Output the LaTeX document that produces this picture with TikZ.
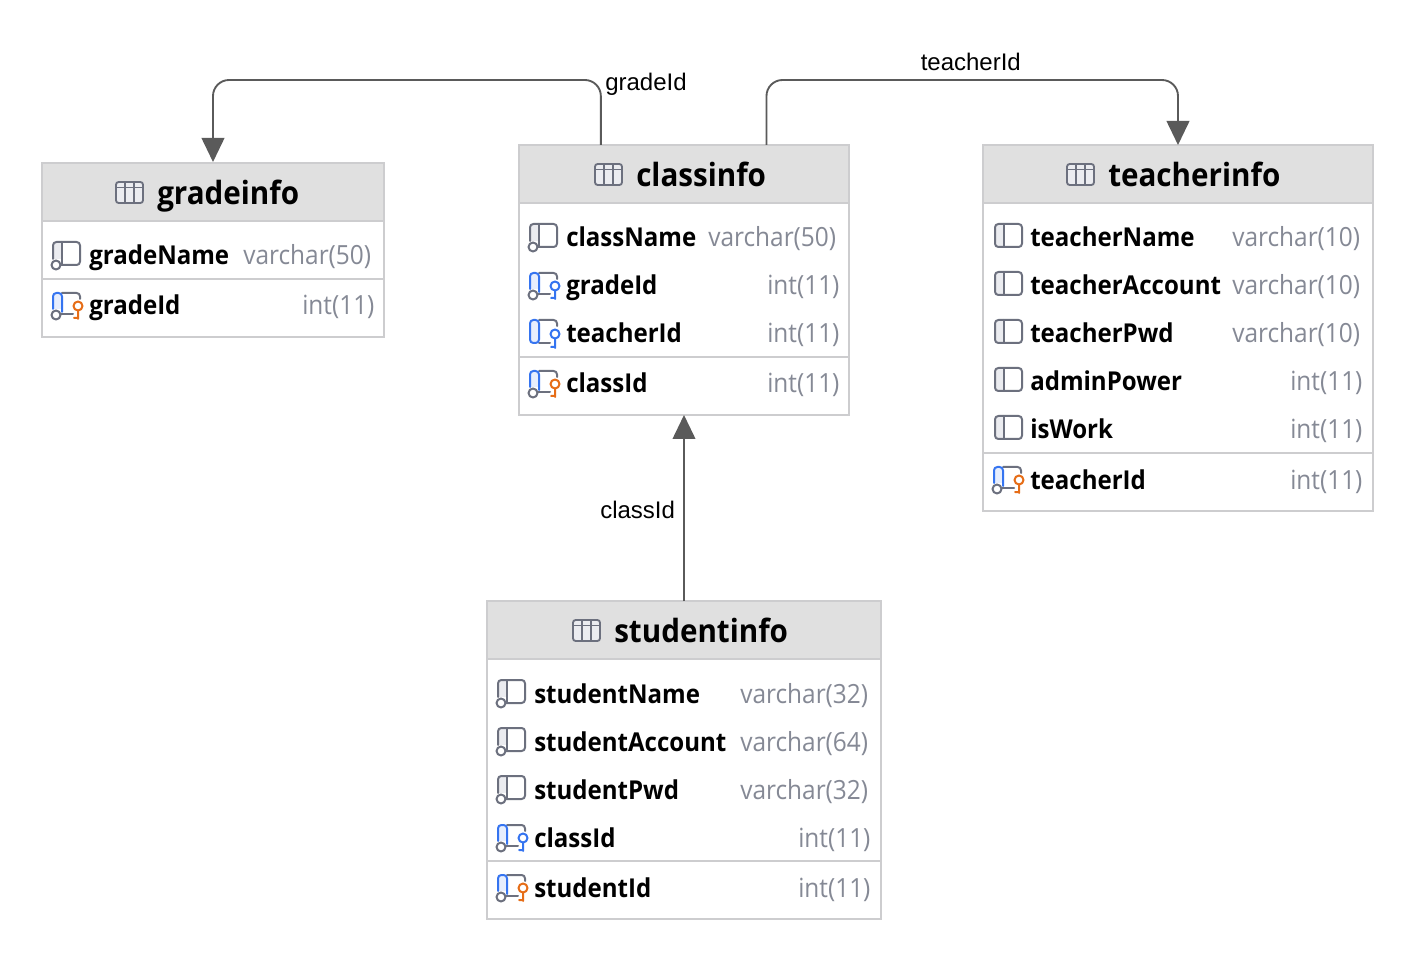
\documentclass[tikz,border=0pt]{standalone}
\usepackage{fontspec}
\setmainfont[FakeStretch=0.925]{Open Sans}
\newfontfamily\labelfont{Liberation Sans}
\usetikzlibrary{calc,arrows.meta}
\definecolor{bordc}{HTML}{CDCDCF}
\definecolor{headc}{HTML}{E0E0E0}
\definecolor{typec}{HTML}{858995}
\definecolor{iconc}{HTML}{6C707E}
\definecolor{bluec}{HTML}{3574F0}
\definecolor{orangec}{HTML}{E66D17}
\definecolor{panelc}{HTML}{EBECF0}
\definecolor{linec}{HTML}{5A5A5A}
\tikzset{
  tablebox/.style={draw=bordc,line width=0.8pt,fill=white,inner sep=0pt,outer sep=0pt,rectangle},
  headbox/.style={fill=headc,inner sep=0pt,outer sep=0pt,rectangle},
  rulec/.style={draw=bordc,line width=1pt},
  titletext/.style={anchor=base west,inner sep=0pt,font=\fontsize{24}{24}\selectfont\bfseries,text=black},
  coltext/.style={anchor=base west,inner sep=0pt,font=\fontsize{19.5}{20}\selectfont\bfseries,text=black},
  typetext/.style={anchor=base west,inner sep=0pt,font=\fontsize{19.8}{20}\selectfont,text=typec},
  conn/.style={draw=linec,line width=1.4pt,rounded corners=12,-{Triangle[length=18pt,width=17pt,fill=linec]}},
  connlabel/.style={inner sep=0pt,anchor=base west,font=\labelfont\fontsize{18}{18}\selectfont,text=black},
  icon/.style={line width=1.5pt,line join=round,line cap=round}
}
\newcommand{\iconplain}[2]{%
  \begin{scope}[shift={(#1,#2)},icon]
    \fill[panelc,rounded corners=1.5] (0,-23) rectangle (9,0);
    \draw[iconc,rounded corners=2.5] (0,-23) rectangle (27,0);
    \draw[iconc] (9,-23) -- (9,0);
  \end{scope}}
\newcommand{\iconnull}[2]{%
  \begin{scope}[shift={(#1,#2)},icon]
    \fill[panelc] (0,-23) rectangle (9,-6);
    \draw[iconc,rounded corners=2.5] (0,-6) -- (0,-23) -- (27,-23) -- (27,0) -- (7,0);
    \draw[iconc] (9,-23) -- (9,0);
    \draw[iconc,fill=white] (3,0) circle (4.5);
  \end{scope}}
\newcommand{\iconkey}[3]{%
  \begin{scope}[shift={(#1,#2)},icon]
    \fill[bluec!12] (0,-22) rectangle (9,-6);
    \draw[iconc,rounded corners=2.5] (9,-22) -- (27,-22) -- (27,-16);
    \draw[iconc] (7,-1) -- (20,-1);
    \draw[bluec,rounded corners=2.5] (0,-6) -- (0,-22) -- (9,-22) -- (9,-3);
    \draw[iconc,fill=white] (3,0) circle (4.5);
    \draw[#3] (25,-9) circle (4.5) (25,-4.5) -- (25,4) (25,3) -- (21,3);
  \end{scope}}
\newcommand{\iconkeynn}[3]{%
  \begin{scope}[shift={(#1,#2)},icon]
    \fill[bluec!12] (0,-23) rectangle (9,0);
    \draw[iconc,rounded corners=2.5] (9,-23) -- (27,-23) -- (27,-17);
    \draw[iconc] (9,0) -- (20,0);
    \draw[bluec,rounded corners=2.5] (9,-23) -- (0,-23) -- (0,0) -- (9,0) -- cycle;
    \draw[#3] (25,-9) circle (4.5) (25,-4.5) -- (25,5) (25,4) -- (21,4);
  \end{scope}}
\newcommand{\tbl}[6]{%
  \node[tablebox,minimum width={(#4-#2)*0.75pt},minimum height={(#5-#3)*0.75pt}] (#1) at ({(#2+#4)/2},{(#3+#5)/2}) {};
  \node[headbox,minimum width={(#4-#2-2)*0.75pt},minimum height={(#6-#3-1)*0.75pt}] (#1head) at ({(#2+#4)/2},{(#3+#6+1)/2}) {};
  \draw[rulec] (#2,#6) -- (#4,#6);}
\newcommand{\ttitle}[6]{%
  \draw[iconc,line width=1.4pt,rounded corners=2,fill=panelc] (#2,{#3-10}) rectangle ({#2+27},{#3+11});
  \draw[iconc,line width=1.4pt] (#2,{#3-4.5}) -- ({#2+27},{#3-4.5}) ({#2+9},{#3-10}) -- ({#2+9},{#3+11}) ({#2+18},{#3-10}) -- ({#2+18},{#3+11});
  \node[titletext] (#1title) at (#4,#5) {#6};}
\newcommand{\cell}[6]{%
  \node[coltext] (#1) at (#2,#3) {#4};
  \node[typetext] (#1type) at (#5,#3) {#6};}
\begin{document}
\begin{tikzpicture}[x=0.75pt,y=-0.75pt]
\useasboundingbox (0,0) rectangle (1414,962);
\fill[white] (0,0) rectangle (1414,962);

% gradeinfo
\tbl{gradeinfo}{42}{163}{384}{337}{221}
\ttitle{gradeinfo}{116}{192}{157}{205}{gradeinfo}
\draw[rulec] (42,279) -- (384,279);
\iconnull{53}{265}
\cell{gradeName}{89}{265}{gradeName}{243}{varchar(50)}
\iconkey{53}{315}{orangec}
\cell{gradeIdA}{89}{315}{gradeId}{302}{int(11)}

% classinfo
\tbl{classinfo}{519}{145}{849}{415}{203}
\ttitle{classinfo}{595}{174}{636}{187}{classinfo}
\draw[rulec] (519,357) -- (849,357);
\iconnull{530}{247}
\cell{className}{566}{247}{className}{708}{varchar(50)}
\iconkey{530}{295}{bluec}
\cell{gradeIdB}{566}{295}{gradeId}{767}{int(11)}
\iconkeynn{530}{343}{bluec}
\cell{teacherIdB}{566}{343}{teacherId}{767}{int(11)}
\iconkey{530}{393}{orangec}
\cell{classIdB}{566}{393}{classId}{767}{int(11)}

% teacherinfo
\tbl{teacherinfo}{983}{145}{1373}{511}{203}
\ttitle{teacherinfo}{1067}{174}{1108}{187}{teacherinfo}
\draw[rulec] (983,453) -- (1373,453);
\iconplain{995}{247}
\cell{teacherName}{1030}{247}{teacherName}{1232}{varchar(10)}
\iconplain{995}{295}
\cell{teacherAccount}{1030}{295}{teacherAccount}{1232}{varchar(10)}
\iconplain{995}{343}
\cell{teacherPwd}{1030}{343}{teacherPwd}{1232}{varchar(10)}
\iconplain{995}{391}
\cell{adminPower}{1030}{391}{adminPower}{1290}{int(11)}
\iconplain{995}{439}
\cell{isWork}{1030}{439}{isWork}{1290}{int(11)}
\iconkey{994}{489}{orangec}
\cell{teacherIdC}{1030}{489}{teacherId}{1290}{int(11)}

% studentinfo
\tbl{studentinfo}{487}{601}{881}{919}{659}
\ttitle{studentinfo}{573}{630}{614}{642}{studentinfo}
\draw[rulec] (487,861) -- (881,861);
\iconnull{498}{703}
\cell{studentName}{534}{703}{studentName}{740}{varchar(32)}
\iconnull{498}{751}
\cell{studentAccount}{534}{751}{studentAccount}{740}{varchar(64)}
\iconnull{498}{799}
\cell{studentPwd}{534}{799}{studentPwd}{740}{varchar(32)}
\iconkey{498}{847}{bluec}
\cell{classIdD}{534}{847}{classId}{798}{int(11)}
\iconkey{498}{897}{orangec}
\cell{studentId}{534}{897}{studentId}{798}{int(11)}

% connectors
\coordinate (cA) at ($(classinfo.north west)!0.248!(classinfo.north east)$);
\coordinate (cB) at ($(classinfo.north west)!0.75!(classinfo.north east)$);
\draw[conn] (cA) -- (cA |- 0,80) -- (gradeinfo.north |- 0,80) -- ([yshift=0.75pt]gradeinfo.north);
\draw[conn] (cB) -- (cB |- 0,80) -- (teacherinfo.north |- 0,80) -- (teacherinfo.north);
\draw[conn] (studentinfo.north) -- (classinfo.south);
\node[connlabel] (lblgrade) at (605,91) {gradeId};
\node[connlabel] (lblteacher) at (920.5,71) {teacherId};
\node[connlabel] (lblclass) at (600,518) {classId};
\end{tikzpicture}
\end{document}
